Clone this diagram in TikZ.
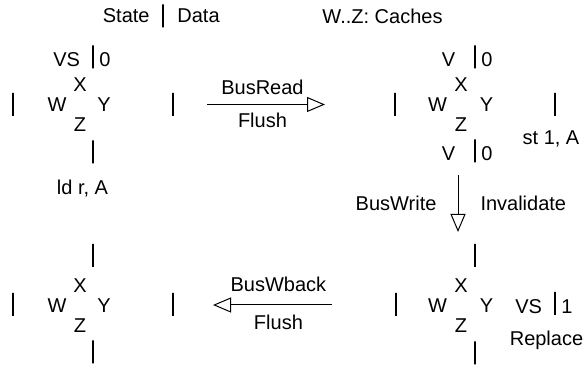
\documentclass[tikz,border=0pt]{standalone}
\usepackage{fontspec}
\setmainfont{Liberation Sans}
\usetikzlibrary{arrows.meta, positioning}

\begin{document}
\begin{tikzpicture}[
		x=0.5pt, y=-0.5pt,
		every node/.style={font=\fontsize{10}{12}\selectfont, inner sep=0pt},
		bar/.style={draw, line width=0.6pt, minimum width=0pt, minimum height=11.5pt, outer sep=0pt},
		state/.style={text width=15pt, align=center, yshift=-1.5pt},
		data/.style={yshift=-1.5pt},
		op/.style={anchor=base},
		bus/.style={-{Triangle[open, length=9pt, width=7.5pt]}, line width=0.5pt}
	]
	\useasboundingbox (0,0) rectangle (585,368);

	\node[bar] (hdr) at (163,16) {};
	\node[left=6.5pt of hdr] (hdrS) {State};
	\node[right=7pt of hdr] (hdrD) {Data};
	\node (caches) at (382.5,16) {W..Z: Caches};

	\node (tlX) at (80,84.5) {X};
	\node (tlW) at (57,104.5) {W};
	\node (tlY) at (104,104.5) {Y};
	\node (tlZ) at (80,124.5) {Z};
	\node[bar] (tlXs) at (93,57) {};
	\node[bar] (tlZs) at (93,152) {};
	\node[bar] (tlWs) at (13,104.5) {};
	\node[bar] (tlYs) at (173,104.5) {};
	\node[state, left=5.5pt of tlXs] (tlXst) {VS};
	\node[data, right=3pt of tlXs] (tlXd) {0};
	\node[op] (ldr) at (82.5,195) {ld r, A};

	\node (trX) at (461,84.5) {X};
	\node (trW) at (437.5,104.5) {W};
	\node (trY) at (486.5,104.5) {Y};
	\node (trZ) at (461,124.5) {Z};
	\node[bar] (trXs) at (475,57) {};
	\node[bar] (trZs) at (475,151) {};
	\node[bar] (trWs) at (395,104.5) {};
	\node[bar] (trYs) at (555,104.5) {};
	\node[state, left=5.5pt of trXs] (trXst) {V};
	\node[data, right=3pt of trXs] (trXd) {0};
	\node[state, left=5.5pt of trZs] (trZst) {V};
	\node[data, right=3pt of trZs] (trZd) {0};
	\node[op] (st1) at (551,145) {st 1, A};

	\node (blX) at (80,285.5) {X};
	\node (blW) at (57,305.5) {W};
	\node (blY) at (104,305.5) {Y};
	\node (blZ) at (80,325.5) {Z};
	\node[bar] (blXs) at (93,255.5) {};
	\node[bar] (blZs) at (93,352) {};
	\node[bar] (blWs) at (13,304.5) {};
	\node[bar] (blYs) at (173,304.5) {};

	\node (brX) at (461,285.5) {X};
	\node (brW) at (437.5,305.5) {W};
	\node (brY) at (486.5,305.5) {Y};
	\node (brZ) at (461,325.5) {Z};
	\node[bar] (brXs) at (475,255.5) {};
	\node[bar] (brZs) at (475,353) {};
	\node[bar] (brWs) at (396,304.5) {};
	\node[bar] (brYs) at (555,303.5) {};
	\node[state, left=5.5pt of brYs] (brYst) {VS};
	\node[data, right=3pt of brYs] (brYd) {1};
	\node[op] (repl) at (546.5,346) {Replace};

	\coordinate (rdA) at (207,104.5);
	\coordinate (rdB) at (325,104.5);
	\draw[bus] (rdA) -- node[pos=0.47, above=4.75pt] (rdT) {BusRead} node[pos=0.47, below=4.25pt] (rdF) {Flush} (rdB);

	\coordinate (wrA) at (458,175);
	\coordinate (wrB) at (458,232);
	\draw[bus] (wrA) -- node[left=10.5pt] (wrT) {BusWrite} node[right=11pt] (wrF) {Invalidate} (wrB);

	\coordinate (wbA) at (332,305);
	\coordinate (wbB) at (213,305);
	\draw[bus] (wbA) -- node[pos=0.45, above=6.5pt] (wbT) {BusWback} node[pos=0.45, below=5pt] (wbF) {Flush} (wbB);
\end{tikzpicture}
\end{document}
